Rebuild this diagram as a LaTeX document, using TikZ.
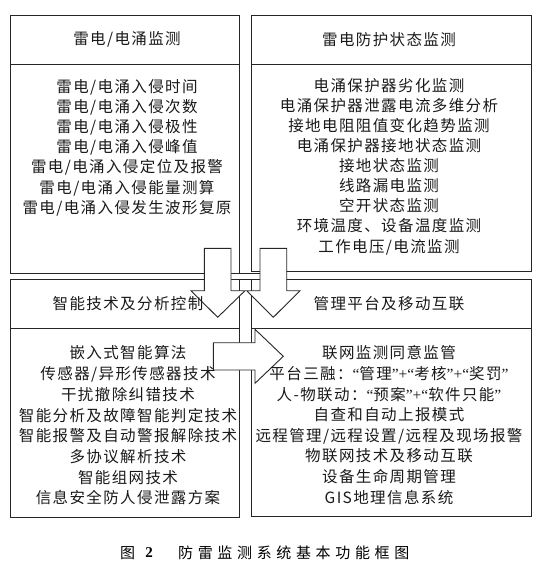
\documentclass[tikz,border=0pt]{standalone}
\usepackage{fontspec}
\newfontfamily\cjk[LetterSpace=9]{Noto Sans CJK SC}
\newfontfamily\capfont[LetterSpace=31]{Noto Sans CJK SC}
\newfontfamily\capplain{Noto Sans CJK SC}
\newfontfamily\numfont{Liberation Serif}
\newcommand{\myqo}{{\numfont “}}
\newcommand{\myqc}{{\numfont ”}}
\newcommand{\myplus}{{\numfont +}}
\begin{document}
\begin{tikzpicture}[x=1pt,y=-1pt,
  box/.style={draw=black!85,line width=0.9pt},
  arr/.style={draw=black!85,line width=0.9pt,fill=white,line join=miter},
  hd/.style={font=\cjk\fontsize{15.5}{20}\selectfont,inner sep=0pt,text=black!90},
  bd/.style={align=center,inner sep=0pt,text=black!90},
  ]
\useasboundingbox (0,0) rectangle (544,570);
% boxes
\draw[box] (10,15) rectangle (239,273);
\draw[box] (10,64) -- (239,64);
\draw[box] (251,15) rectangle (531,271.5);
\draw[box] (251,64) -- (531,64);
\draw[box] (10,279.5) rectangle (239,517);
\draw[box] (10,328.3) -- (239,328.3);
\draw[box] (251,279.5) rectangle (531,516);
\draw[box] (251,328.3) -- (531,328.3);
\draw[box] (231,273) -- (260,273);
\draw[box] (231,279.5) -- (260,279.5);
% arrows
\draw[arr] (204.3,248.3) -- (231,248.3) -- (231,290.7) -- (245,290.7) -- (217.7,317.3) -- (191,290.7) -- (204.3,290.7) -- cycle;
\draw[arr] (260,248.3) -- (286.7,248.3) -- (286.7,290.7) -- (300,290.7) -- (273.3,317.3) -- (246.7,290.7) -- (260,290.7) -- cycle;
\draw[arr] (213.3,342.7) -- (255,342.7) -- (255,329.3) -- (283.3,356.3) -- (255,383.3) -- (255,370) -- (213.3,370) -- cycle;
% headers
\node[hd] (h1) at (127,39.5) {雷电/电涌监测};
\node[hd] (h2) at (389,40) {雷电防护状态监测};
\node[hd] (h3) at (128,303.5) {智能技术及分析控制};
\node[hd] (h4) at (389,303.5) {管理平台及移动互联};
% bodies
\node[bd,font=\cjk\fontsize{15.5}{20.2}\selectfont] (b1) at (127,147.5) {雷电/电涌入侵时间\\雷电/电涌入侵次数\\雷电/电涌入侵极性\\雷电/电涌入侵峰值\\雷电/电涌入侵定位及报警\\雷电/电涌入侵能量测算\\雷电/电涌入侵发生波形复原};
\node[bd,font=\cjk\fontsize{15.5}{20.1}\selectfont] (b2) at (389,166.5) {电涌保护器劣化监测\\电涌保护器泄露电流多维分析\\接地电阻阻值变化趋势监测\\电涌保护器接地状态监测\\接地状态监测\\线路漏电监测\\空开状态监测\\环境温度、设备温度监测\\工作电压/电流监测};
\node[bd,font=\cjk\fontsize{15.5}{20.7}\selectfont] (b3) at (128,425.5) {嵌入式智能算法\\传感器/异形传感器技术\\干扰撤除纠错技术\\智能分析及故障智能判定技术\\智能报警及自动警报解除技术\\多协议解析技术\\智能组网技术\\信息安全防人侵泄露方案};
\node[bd,font=\cjk\fontsize{15.5}{20.6}\selectfont] (b4) at (389,425) {联网监测同意监管\\平台三融：\myqo 管理\myqc\myplus\myqo 考核\myqc\myplus\myqo 奖罚\myqc\\人-物联动：\myqo 预案\myqc\myplus\myqo 软件只能\myqc\\自查和自动上报模式\\远程管理/远程设置/远程及现场报警\\物联网技术及移动互联\\设备生命周期管理\\GIS地理信息系统};
% caption
\node[inner sep=0pt,font=\capplain\fontsize{15}{18}\selectfont] (c1) at (127.5,553) {图};
\node[inner sep=0pt,font=\numfont\bfseries\fontsize{15}{18}\selectfont] (c2) at (149,553) {2};
\node[inner sep=0pt,anchor=west,font=\capfont\fontsize{15}{18}\selectfont] (c3) at (178,553) {防雷监测系统基本功能框图};
\end{tikzpicture}
\end{document}
